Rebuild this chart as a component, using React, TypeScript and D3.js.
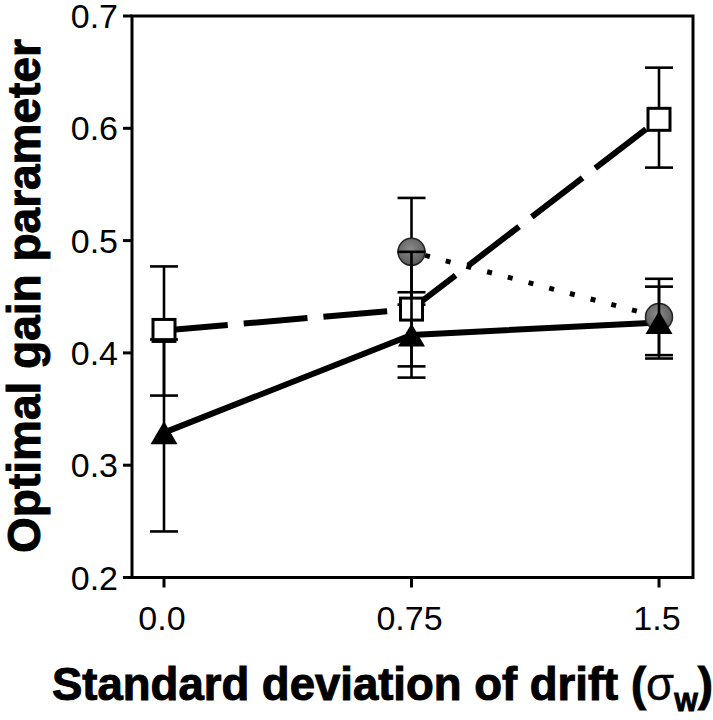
import React from "react";
import * as d3 from "d3";

const xValues = [0, 0.75, 1.5];
const xTickLabels = ["0.0", "0.75", "1.5"];
const yTicks = [0.2, 0.3, 0.4, 0.5, 0.6, 0.7];
const yTickLabels = ["0.2", "0.3", "0.4", "0.5", "0.6", "0.7"];

// open squares (dashed line)
const squareX = [0, 0.75, 1.5];
const squareMean = [0.42, 0.439, 0.608];
const squareLower = [0.362, 0.388, 0.565];
const squareUpper = [0.477, 0.49, 0.654];

// grey circles (dotted line)
const circleX = [0.75, 1.5];
const circleMean = [0.49, 0.432];
const circleLower = [0.443, 0.398];
const circleUpper = [0.538, 0.466];

// filled triangles (solid line)
const triX = [0, 0.75, 1.5];
const triMean = [0.329, 0.416, 0.427];
const triLower = [0.241, 0.378, 0.395];
const triUpper = [0.412, 0.454, 0.459];

const W = 713;
const H = 720;
const left = 132;
const right = 693;
const top = 16;
const bottom = 577.5;

export default function App() {
  const x = d3.scaleLinear().domain([0, 1.5]).range([164, 659]);
  const y = d3.scaleLinear().domain([0.2, 0.7]).range([bottom, top]);
  const line = d3
    .line<[number, number]>()
    .x((d) => x(d[0]))
    .y((d) => y(d[1]));

  const capW = 14;
  const errBars = (xs: number[], lo: number[], hi: number[], key: string) =>
    xs.map((xv, i) => (
      <g key={key + i} stroke="#000" strokeWidth={2.6} fill="none">
        <line x1={x(xv)} x2={x(xv)} y1={y(lo[i])} y2={y(hi[i])} />
        <line x1={x(xv) - capW} x2={x(xv) + capW} y1={y(lo[i])} y2={y(lo[i])} />
        <line x1={x(xv) - capW} x2={x(xv) + capW} y1={y(hi[i])} y2={y(hi[i])} />
      </g>
    ));

  const triPath = (cx: number, cy: number) => {
    const hw = 13.5;
    const hh = 11.5;
    return `M${cx},${cy - hh}L${cx + hw},${cy + hh}L${cx - hw},${cy + hh}Z`;
  };

  const font = "'Liberation Sans', Arial, Helvetica, sans-serif";

  return (
    <svg
      width={W}
      height={H}
      style={{ position: "absolute", left: 0, top: 0, background: "#fff" }}
    >
      <defs>
        <radialGradient id="cg" cx="45%" cy="40%" r="60%">
          <stop offset="0%" stopColor="#8a8a8a" />
          <stop offset="100%" stopColor="#5a5a5a" />
        </radialGradient>
      </defs>
      <rect x={0} y={0} width={W} height={H} fill="#fff" />

      {/* frame */}
      <rect
        x={left}
        y={top}
        width={right - left}
        height={bottom - top}
        fill="none"
        stroke="#000"
        strokeWidth={3}
      />
      {yTicks.map((t, i) => (
        <g key={"yt" + i}>
          <line x1={left - 9} x2={left} y1={y(t)} y2={y(t)} stroke="#000" strokeWidth={3} />
          <text
            x={118}
            y={y(t) + 12}
            textAnchor="end"
            fontFamily={font}
            fontSize={34}
            fill="#000"
          >
            {yTickLabels[i]}
          </text>
        </g>
      ))}
      {xValues.map((t, i) => (
        <g key={"xt" + i}>
          <line x1={x(t)} x2={x(t)} y1={bottom} y2={bottom + 10} stroke="#000" strokeWidth={3} />
          <text
            x={x(t) - 2}
            y={630}
            textAnchor="middle"
            fontFamily={font}
            fontSize={34}
            fill="#000"
          >
            {xTickLabels[i]}
          </text>
        </g>
      ))}

      {/* axis titles */}
      <text
        transform={`translate(40,296) rotate(-90)`}
        textAnchor="middle"
        fontFamily={font}
        fontWeight="bold"
        fontSize={46}
        fill="#000"
        stroke="#000"
        strokeWidth={1}
      >
        Optimal gain parameter
      </text>
      <text
        x={52}
        y={700}
        fontFamily={font}
        fontWeight="bold"
        fontSize={45.5}
        fill="#000"
        stroke="#000"
        strokeWidth={1}
      >
        Standard deviation of drift (
        <tspan fontWeight="normal" strokeWidth={0.4}>σ</tspan>
        <tspan fontSize={25} dy={11}>W</tspan>
        <tspan dy={-11}>)</tspan>
      </text>

      {/* connecting lines */}
      <path
        d={line(triX.map((v, i) => [v, triMean[i]]) as any) || ""}
        fill="none"
        stroke="#000"
        strokeWidth={6}
      />
      <path
        d={line(squareX.map((v, i) => [v, squareMean[i]]) as any) || ""}
        fill="none"
        stroke="#000"
        strokeWidth={6}
        strokeDasharray="64,16"
      />
      <path
        d={line(circleX.map((v, i) => [v, circleMean[i]]) as any) || ""}
        fill="none"
        stroke="#000"
        strokeWidth={5}
        strokeDasharray="5,16.4"
        strokeDashoffset={-14}
      />

      {/* circles */}
      {errBars(circleX, circleLower, circleUpper, "ce")}
      {circleX.map((v, i) => (
        <circle
          key={"c" + i}
          cx={x(v)}
          cy={y(circleMean[i])}
          r={13.5}
          fill="url(#cg)"
          stroke="#222"
          strokeWidth={1.5}
        />
      ))}

      {/* squares */}
      {errBars(squareX, squareLower, squareUpper, "se")}
      {squareX.map((v, i) => (
        <rect
          key={"s" + i}
          x={x(v) - 11}
          y={y(squareMean[i]) - 11}
          width={22}
          height={22}
          fill="#fff"
          stroke="#000"
          strokeWidth={3}
        />
      ))}

      {/* triangles */}
      {errBars(triX, triLower, triUpper, "te")}
      {triX.map((v, i) => (
        <path key={"t" + i} d={triPath(x(v), y(triMean[i]))} fill="#000" />
      ))}
    </svg>
  );
}
